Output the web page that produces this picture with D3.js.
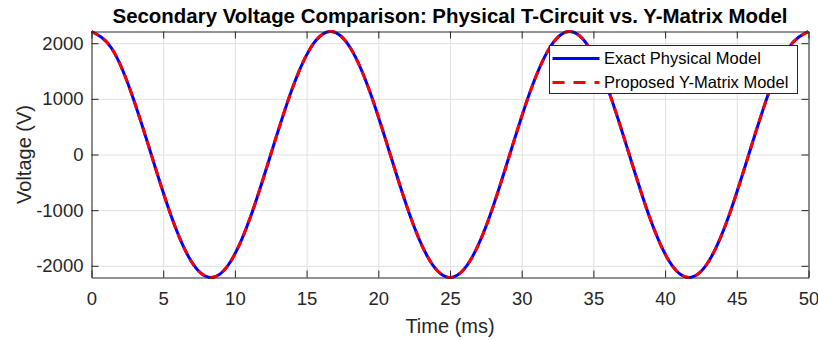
<!DOCTYPE html>
<html>
<head>
<meta charset="utf-8">
<script src="https://cdn.jsdelivr.net/npm/d3@7"></script>
<style>
  body { margin: 0; background: #fff; }
  svg { font-family: "Liberation Sans", Arial, sans-serif; }
  .grid line { stroke: #dfdfdf; stroke-width: 1; }
  .grid path { display: none; }
  .axis path, .axis line { stroke: #262626; stroke-width: 1; }
  .axis text { fill: #262626; font-size: 18.5px; font-family: "Liberation Sans", Arial, sans-serif; }
</style>
</head>
<body>
<div id="chart"></div>
<script>
// samples (time in ms, voltage in V)
const timeMs = [0, 1.389, 2.778, 4.167, 5.556, 6.944, 8.333, 9.722, 11.111, 12.5, 13.889, 15.278,
  16.667, 18.056, 19.444, 20.833, 22.222, 23.611, 25, 26.389, 27.778, 29.167, 30.556, 31.944,
  33.333, 34.722, 36.111, 37.5, 38.889, 40.278, 41.667, 43.056, 44.444, 45.833, 47.222, 48.611, 50];
const exactModel = [2210, 1914, 1105, 0, -1105, -1914, -2210, -1914, -1105, 0, 1105, 1914,
  2210, 1914, 1105, 0, -1105, -1914, -2210, -1914, -1105, 0, 1105, 1914,
  2210, 1914, 1105, 0, -1105, -1914, -2210, -1914, -1105, 0, 1105, 1914, 2210];
const yMatrixModel = [2210, 1914, 1105, 0, -1105, -1914, -2210, -1914, -1105, 0, 1105, 1914,
  2210, 1914, 1105, 0, -1105, -1914, -2210, -1914, -1105, 0, 1105, 1914,
  2210, 1914, 1105, 0, -1105, -1914, -2210, -1914, -1105, 0, 1105, 1914, 2210];
const xTicks = [0, 5, 10, 15, 20, 25, 30, 35, 40, 45, 50];
const yTicks = [-2000, -1000, 0, 1000, 2000];
const seriesNames = ['Exact Physical Model', 'Proposed Y-Matrix Model'];

const svgWidth = 818, svgHeight = 340;
const margin = {top: 31.5, right: 9.5, bottom: 62.5, left: 91.5};
const width = svgWidth - margin.left - margin.right;
const height = svgHeight - margin.top - margin.bottom;

const svg = d3.select('#chart').append('svg')
  .attr('width', svgWidth)
  .attr('height', svgHeight);

const x = d3.scaleLinear().domain([0, 50]).range([0, width]);
const y = d3.scaleLinear().domain([-2210, 2210]).range([height, 0]);
const plain = d => String(d); // hyphen minus, no thousands comma

const g = svg.append('g').attr('transform', `translate(${margin.left},${margin.top})`);

// grid
g.append('g').attr('class', 'grid')
  .call(d3.axisBottom(x).tickValues(xTicks).tickSize(height).tickFormat(''));
g.append('g').attr('class', 'grid')
  .call(d3.axisLeft(y).tickValues(yTicks).tickSize(-width).tickFormat(''));

// lines
const line = d3.line()
  .x((d, i) => x(timeMs[i]))
  .y(d => y(d))
  .curve(d3.curveNatural);

g.append('path')
  .datum(exactModel)
  .attr('fill', 'none')
  .attr('stroke', '#0000ff')
  .attr('stroke-width', 3)
  .attr('d', line);

g.append('path')
  .datum(yMatrixModel)
  .attr('fill', 'none')
  .attr('stroke', '#ff0000')
  .attr('stroke-width', 3)
  .attr('stroke-dasharray', '8,6')
  .attr('d', line);

// axes, ticks inside like matlab
g.append('g').attr('class', 'axis')
  .attr('transform', `translate(0,${height})`)
  .call(d3.axisBottom(x).tickValues(xTicks).tickSizeInner(-7).tickSizeOuter(0).tickPadding(14).tickFormat(plain));
g.append('g').attr('class', 'axis')
  .call(d3.axisTop(x).tickValues(xTicks).tickSizeInner(-7).tickSizeOuter(0).tickFormat(''));
g.append('g').attr('class', 'axis')
  .call(d3.axisLeft(y).tickValues(yTicks).tickSizeInner(-7).tickSizeOuter(0).tickPadding(8).tickFormat(plain));
g.append('g').attr('class', 'axis')
  .attr('transform', `translate(${width},0)`)
  .call(d3.axisRight(y).tickValues(yTicks).tickSizeInner(-7).tickSizeOuter(0).tickFormat(''));

// labels
svg.append('text')
  .attr('x', margin.left + width / 2)
  .attr('y', 23)
  .attr('text-anchor', 'middle')
  .attr('font-weight', 'bold')
  .attr('font-size', '19.5px')
  .attr('textLength', 675)
  .attr('lengthAdjust', 'spacingAndGlyphs')
  .attr('fill', '#000')
  .text('Secondary Voltage Comparison: Physical T-Circuit vs. Y-Matrix Model');

svg.append('text')
  .attr('x', margin.left + width / 2)
  .attr('y', 333)
  .attr('text-anchor', 'middle')
  .attr('font-size', '20px')
  .attr('fill', '#262626')
  .text('Time (ms)');

svg.append('text')
  .attr('transform', `translate(31,${margin.top + height / 2}) rotate(-90)`)
  .attr('text-anchor', 'middle')
  .attr('font-size', '20px')
  .attr('fill', '#262626')
  .text('Voltage (V)');

// legend
const legend = svg.append('g').attr('transform', 'translate(549.5,45.5)');
legend.append('rect')
  .attr('width', 248)
  .attr('height', 48)
  .attr('fill', '#fff')
  .attr('stroke', '#262626')
  .attr('stroke-width', 1);

const legendItems = [
  {name: seriesNames[0], color: '#0000ff', dash: null},
  {name: seriesNames[1], color: '#ff0000', dash: '12,9'}
];
legendItems.forEach((d, i) => {
  const row = legend.append('g').attr('transform', `translate(0,${13 + i * 24})`);
  row.append('line')
    .attr('x1', 3).attr('x2', 50)
    .attr('stroke', d.color)
    .attr('stroke-width', 3)
    .attr('stroke-dasharray', d.dash);
  row.append('text')
    .attr('x', 54.5)
    .attr('dy', '0.35em')
    .attr('font-size', '16.5px')
    .attr('fill', '#000')
    .text(d.name);
});
</script>
</body>
</html>
